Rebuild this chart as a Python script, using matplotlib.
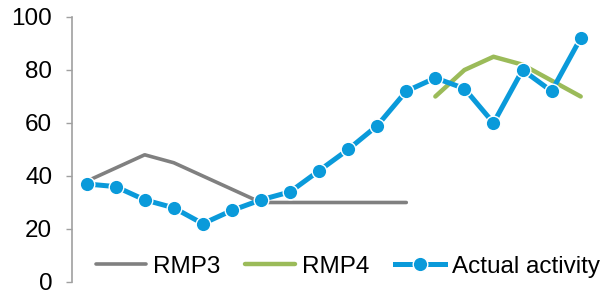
import matplotlib.pyplot as plt

plt.rcParams["font.family"] = ["Liberation Sans", "DejaVu Sans"]

# data
periods = list(range(18))
rmp3 = [38, 43, 48, 45, 40, 35, 30, 30, 30, 30, 30, 30]
rmp4 = [70, 80, 85, 82, 76, 70]
actual = [37, 36, 31, 28, 22, 27, 31, 34, 42, 50, 59, 72, 77, 73, 60, 80, 72, 92]
yticks = [0, 20, 40, 60, 80, 100]

fig = plt.figure(figsize=(6.13, 2.9), dpi=100)
ax = fig.add_axes([0.1175, 0.0276, 0.8535, 0.9138])

ax.plot(periods[:len(rmp3)], rmp3, color="#808080", lw=2.6,
        solid_capstyle="round", label="RMP3")
ax.plot(periods[-len(rmp4):], rmp4, color="#9BBB59", lw=3.2,
        solid_capstyle="round", label="RMP4")
ax.plot(periods, actual, color="#0A9ADA", lw=3.6, marker="o", ms=10.5,
        markeredgecolor="white", markeredgewidth=1.0, label="Actual activity")

ax.set_xlim(-0.5, 17.5)
ax.set_ylim(0, 100)
ax.set_yticks(yticks)
ax.set_xticks([])
ax.tick_params(axis="y", labelsize=17.5, length=4.3, width=1, color="#A0A0A0",
               direction="out", pad=10)
for side in ["top", "right", "bottom"]:
    ax.spines[side].set_visible(False)
ax.spines["left"].set_color("#A0A0A0")
ax.spines["left"].set_linewidth(1.2)

ax.legend(loc="center", bbox_to_anchor=(0.527, 0.057), ncol=3,
          frameon=False, fontsize=17.5, handlelength=2.06, handletextpad=0.29,
          columnspacing=1.03, borderaxespad=0, borderpad=0)

fig.savefig("out.png", dpi=100)
